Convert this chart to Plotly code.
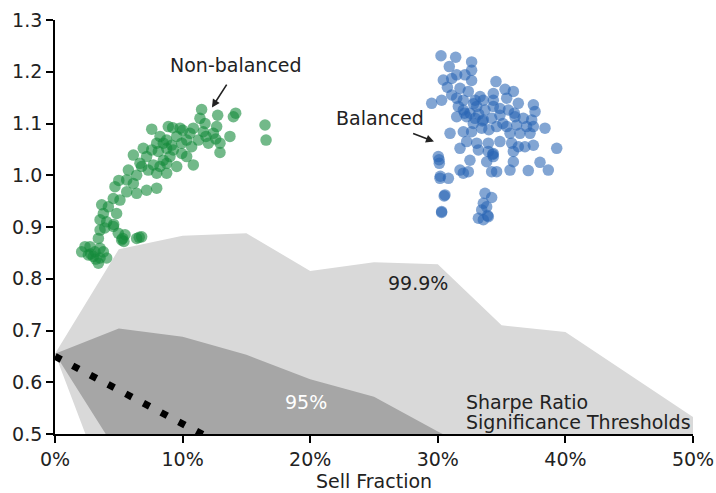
import plotly.graph_objects as go

# ---- data -------------------------------------------------------------
x_ticks = [0, 10, 20, 30, 40, 50]
x_tick_labels = ["0%", "10%", "20%", "30%", "40%", "50%"]
y_ticks = [0.5, 0.6, 0.7, 0.8, 0.9, 1.0, 1.1, 1.2, 1.3]
y_tick_labels = ["0.5", "0.6", "0.7", "0.8", "0.9", "1.0", "1.1", "1.2", "1.3"]

band_x = [0, 5, 10, 15, 20, 25, 30, 35, 40, 45, 50]
upper_999 = [0.655, 0.857, 0.883, 0.888, 0.815, 0.832, 0.828, 0.710, 0.697, 0.615, 0.533]
lower_999 = [0.655, 0.330, 0.300, 0.300, 0.300, 0.300, 0.300, 0.300, 0.300, 0.300, 0.300]

dark_x = [0, 5, 10, 15, 20, 25, 30, 35]
upper_95 = [0.655, 0.704, 0.688, 0.653, 0.606, 0.572, 0.505, 0.440]
lower_95 = [0.655, 0.460, 0.400, 0.400, 0.400, 0.400, 0.400, 0.400]

dot_x = [0, 12.5]
dot_y = [0.650, 0.487]

green_x = [11.49, 12.75, 14.16, 13.98, 16.46, 16.54, 13.71, 12.93, 12.93, 12.02,
           11.62, 11.76, 11.36, 11.83, 10.84, 10.01, 9.80, 8.88, 9.22, 7.58,
           8.23, 8.75, 9.54, 10.32, 10.71, 10.32, 10.84, 9.93, 9.27, 8.75,
           7.97, 7.58, 7.18, 6.92, 6.14, 6.66, 7.71, 8.49, 9.01, 9.54,
           8.75, 7.97, 7.31, 6.79, 6.40, 5.75, 5.62, 6.14, 6.40, 7.18,
           7.97, 5.62, 4.70, 5.09, 4.57, 4.18, 3.66, 3.79, 4.83, 4.05,
           3.53, 3.53, 4.57, 4.96, 5.22, 5.49, 6.40, 6.79, 3.40, 12.67,
           12.41, 11.23, 10.58, 9.93, 9.14, 8.49, 8.10, 8.75, 8.23,
           2.74, 2.09, 2.61, 3.13, 3.53, 4.05, 3.40, 3.00, 3.79, 2.35,
           3.53, 2.80, 3.20, 5.30, 5.40, 6.60, 3.90, 4.60, 5.00, 12.60]
green_y = [1.127, 1.116, 1.120, 1.113, 1.097, 1.068, 1.075, 1.062, 1.044, 1.062,
           1.084, 1.100, 1.110, 1.075, 1.091, 1.087, 1.091, 1.094, 1.092, 1.089,
           1.075, 1.068, 1.075, 1.068, 1.055, 1.036, 1.020, 1.042, 1.049, 1.052,
           1.062, 1.049, 1.036, 1.052, 1.039, 1.023, 1.020, 1.029, 1.036, 1.017,
           1.004, 1.004, 1.010, 1.017, 1.000, 1.010, 0.991, 0.984, 0.965, 0.971,
           0.975, 0.968, 0.978, 0.952, 0.955, 0.939, 0.943, 0.926, 0.926, 0.910,
           0.914, 0.894, 0.901, 0.888, 0.875, 0.885, 0.878, 0.881, 0.878, 1.094,
           1.081, 1.068, 1.081, 1.062, 1.058, 1.062, 1.046, 1.023, 1.017,
           0.862, 0.852, 0.846, 0.852, 0.840, 0.840, 0.830, 0.843, 0.852, 0.862,
           0.859, 0.848, 0.838, 0.878, 0.872, 0.880, 0.898, 0.905, 0.990, 1.070]

blue_x = [30.25, 31.40, 32.65, 30.90, 32.65, 31.48, 32.13, 30.43, 31.09, 32.65,
          30.75, 34.56, 31.74, 31.09, 32.39, 33.31, 34.35, 35.27, 35.92, 29.52,
          30.30, 31.48, 32.00, 32.92, 33.57, 34.35, 35.40, 36.31, 37.49, 37.62,
          31.61, 32.00, 32.52, 33.05, 33.70, 34.35, 34.87, 35.53, 31.48, 32.26,
          32.92, 32.78, 33.57, 34.22, 34.87, 36.05, 36.70, 37.36, 36.18, 36.96,
          37.49, 38.40, 30.96, 32.00, 32.65, 33.44, 34.61, 35.40, 35.66, 36.44,
          37.23, 31.74, 32.26, 33.05, 33.96, 34.87, 35.79, 36.31, 36.83, 37.49,
          39.32, 33.18, 33.96, 34.35, 34.35, 32.52, 33.83, 35.92, 35.92, 38.01,
          30.04, 30.12, 30.17, 30.83, 31.74, 32.00, 32.39, 34.22, 34.61, 35.66,
          37.09, 38.66, 30.56, 30.30, 33.70, 34.22, 33.57, 33.83, 33.44, 33.96,
          33.18, 33.57, 30.10, 30.20, 30.50, 30.30, 34.30, 33.90, 32.10, 33.50,
          35.10, 36.00, 34.00, 32.80, 33.20]
blue_y = [1.231, 1.228, 1.219, 1.210, 1.203, 1.194, 1.194, 1.184, 1.187, 1.183,
          1.170, 1.181, 1.168, 1.155, 1.162, 1.152, 1.158, 1.166, 1.162, 1.139,
          1.145, 1.149, 1.145, 1.145, 1.145, 1.145, 1.149, 1.139, 1.136, 1.123,
          1.133, 1.126, 1.120, 1.133, 1.126, 1.133, 1.129, 1.126, 1.113, 1.113,
          1.110, 1.100, 1.107, 1.110, 1.116, 1.113, 1.110, 1.107, 1.097, 1.094,
          1.094, 1.091, 1.081, 1.084, 1.084, 1.091, 1.094, 1.094, 1.081, 1.081,
          1.081, 1.052, 1.065, 1.062, 1.062, 1.065, 1.062, 1.055, 1.055, 1.058,
          1.052, 1.049, 1.046, 1.042, 1.036, 1.029, 1.026, 1.046, 1.026, 1.025,
          1.036, 1.023, 0.994, 0.994, 1.010, 1.004, 1.007, 1.007, 1.007, 1.010,
          1.009, 1.010, 0.962, 0.930, 0.965, 0.957, 0.946, 0.939, 0.933, 0.920,
          0.917, 0.914, 1.030, 0.998, 0.960, 0.928, 1.040, 0.922, 1.120, 1.105,
          1.100, 1.120, 1.088, 1.138, 1.118]

FONT = "DejaVu Sans"
FS = 19

fig = go.Figure()

# 99.9% band
fig.add_trace(go.Scatter(
    x=band_x + band_x[::-1], y=upper_999 + lower_999[::-1],
    fill="toself", fillcolor="rgb(217,217,217)", mode="none",
    hoverinfo="skip", showlegend=False))
# 95% band
fig.add_trace(go.Scatter(
    x=dark_x + dark_x[::-1], y=upper_95 + lower_95[::-1],
    fill="toself", fillcolor="rgb(166,166,166)", mode="none",
    hoverinfo="skip", showlegend=False))
# dotted line
fig.add_trace(go.Scatter(
    x=dot_x, y=dot_y, mode="lines",
    line=dict(color="black", width=7, dash="7px,13px"),
    hoverinfo="skip", showlegend=False))
# scatter clouds
fig.add_trace(go.Scatter(
    x=green_x, y=green_y, mode="markers",
    marker=dict(size=11.5, color="rgba(20,138,58,0.6)", line=dict(width=0)),
    showlegend=False))
fig.add_trace(go.Scatter(
    x=blue_x, y=blue_y, mode="markers",
    marker=dict(size=11.5, color="rgba(40,100,180,0.58)", line=dict(width=0)),
    showlegend=False))

txt = dict(family=FONT, size=FS, color="#222222")
annotations = [
    dict(x=14.2, y=1.213, text="Non-balanced", showarrow=False, font=txt),
    dict(x=12.3, y=1.131, ax=13.53, ay=1.178, axref="x", ayref="y", text="",
         showarrow=True, arrowhead=2, arrowsize=1, arrowwidth=1.6, arrowcolor="#222222"),
    dict(x=25.5, y=1.111, text="Balanced", showarrow=False, font=txt),
    dict(x=29.70, y=1.065, ax=27.95, ay=1.082, axref="x", ayref="y", text="",
         showarrow=True, arrowhead=2, arrowsize=1, arrowwidth=1.6, arrowcolor="#222222"),
    dict(x=28.45, y=0.791, text="99.9%", showarrow=False, font=txt),
    dict(x=19.67, y=0.562, text="95%", showarrow=False,
         font=dict(family=FONT, size=FS, color="white")),
    dict(x=32.05, y=0.5624, text="Sharpe Ratio", showarrow=False, xanchor="left", font=txt),
    dict(x=32.05, y=0.5238, text="Significance Thresholds", showarrow=False,
         xanchor="left", font=txt),
]

fig.update_layout(
    width=716, height=493,
    margin=dict(l=55, r=23, t=20, b=59),
    paper_bgcolor="white", plot_bgcolor="white",
    font=dict(family=FONT, size=FS, color="#222222"),
    annotations=annotations,
    xaxis=dict(range=[0, 50], tickvals=x_ticks, ticktext=x_tick_labels,
               automargin=False,
               showgrid=False, zeroline=False, showline=True, linecolor="black",
               linewidth=1.8, ticks="outside", ticklen=7, tickwidth=1.8,
               tickcolor="black", tickfont=dict(family=FONT, size=FS, color="#222222"),
               title=dict(text="Sell Fraction", standoff=4,
                          font=dict(family=FONT, size=FS, color="#222222"))),
    yaxis=dict(range=[0.5, 1.3], tickvals=y_ticks, ticktext=y_tick_labels,
               automargin=False,
               showgrid=False, zeroline=False, showline=True, linecolor="black",
               linewidth=1.8, ticks="outside", ticklen=7, tickwidth=1.8,
               tickcolor="black", tickfont=dict(family=FONT, size=FS, color="#222222")),
)

fig.write_html("out.html", config={"displayModeBar": False},
               post_script="document.body.style.margin='0';")
